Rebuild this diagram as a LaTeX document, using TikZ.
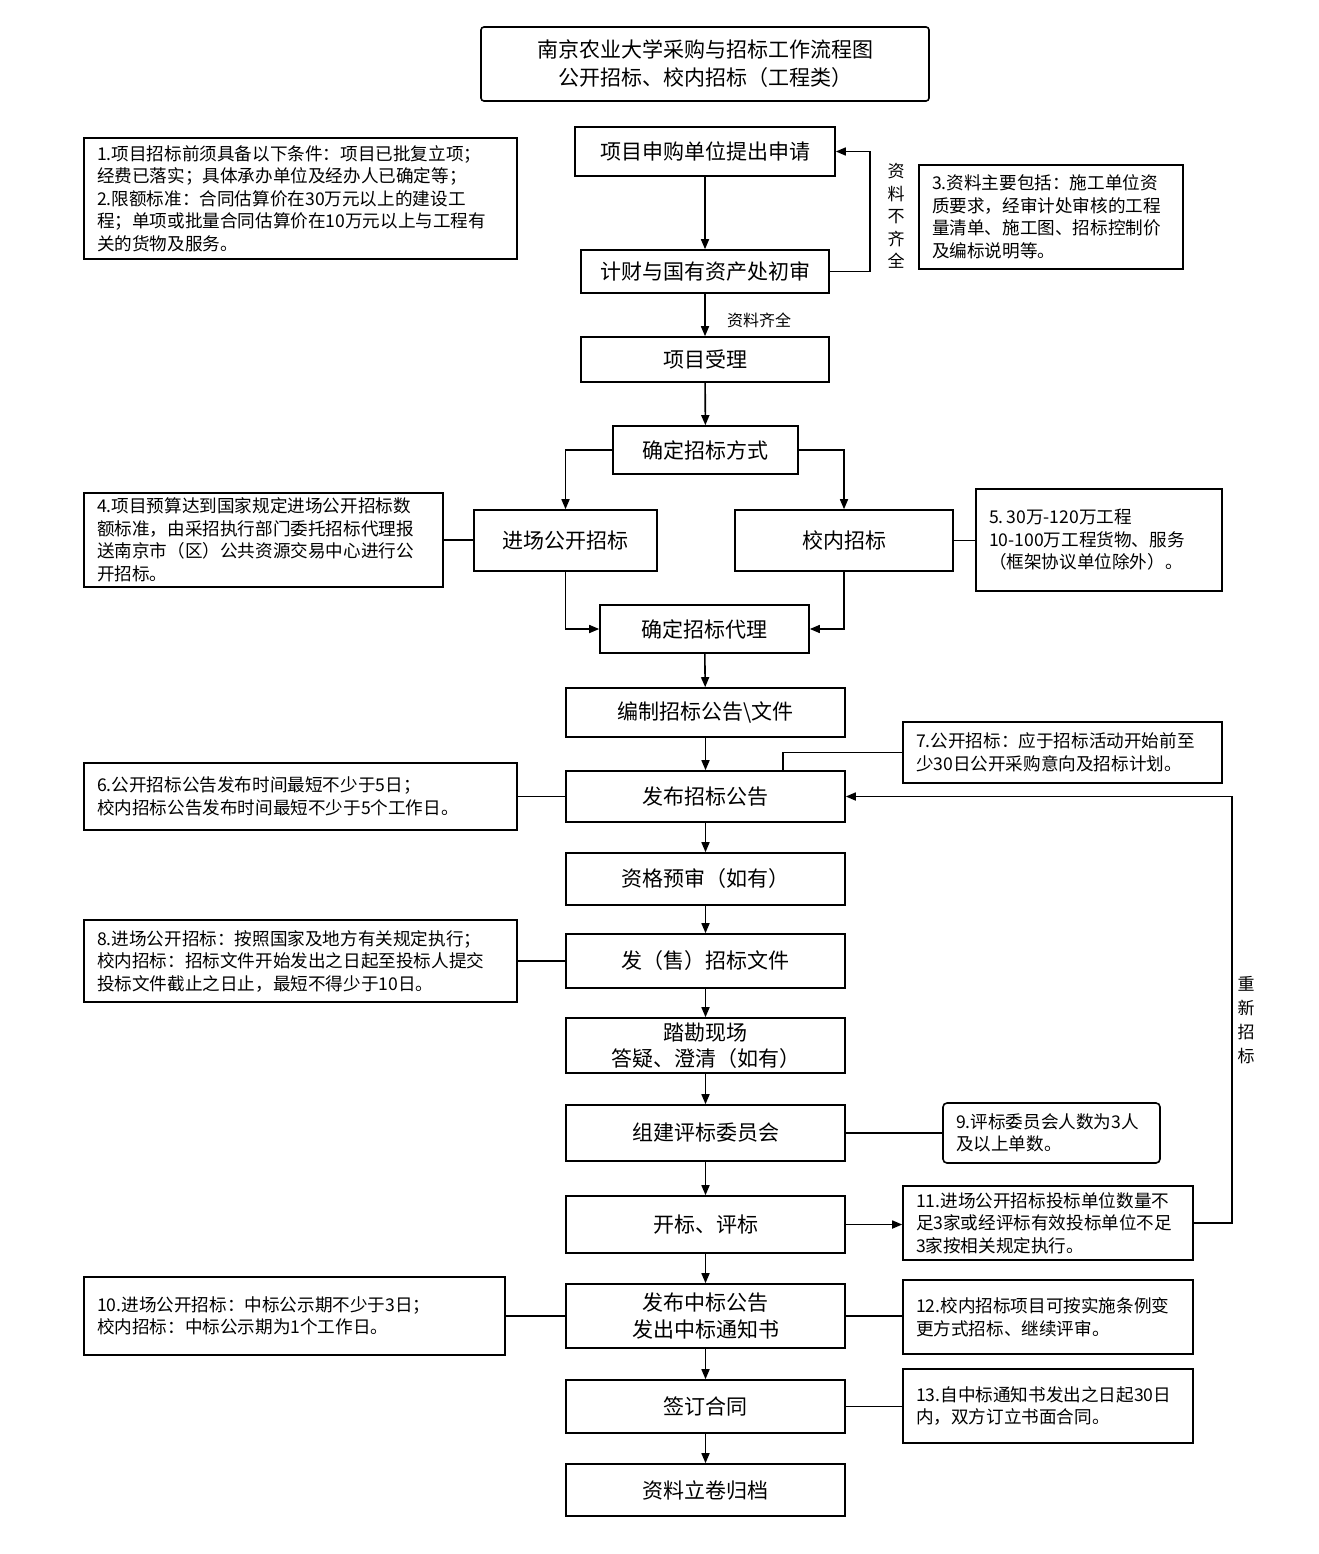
\documentclass[tikz,border=0pt]{standalone}
\usepackage{fontspec}
\setmainfont{Noto Sans CJK SC}
\usetikzlibrary{arrows.meta}
\begin{document}
\begin{tikzpicture}[x=1pt,y=-1pt,
  box/.style={draw, line width=1.6pt, align=center, inner sep=2pt, font=\fontsize{21}{27}\selectfont},
  note/.style={draw, line width=1.6pt, align=left, inner xsep=13pt, inner ysep=2pt, font=\fontsize{17.6}{22.5}\selectfont},
  vlab/.style={align=center, inner sep=0pt, font=\fontsize{17}{22.5}\selectfont},
  arr/.style={-{Triangle[length=10pt,width=8pt]}, line width=1.6pt},
  ln/.style={line width=1.6pt}]
\useasboundingbox (0,0) rectangle (1318,1554);
\fill[white] (0,0) rectangle (1318,1554);

% title
\node[box, rounded corners=3pt, minimum width=448, minimum height=74, font=\fontsize{21}{28}\selectfont] (title) at (705,64) {南京农业大学采购与招标工作流程图\\公开招标、校内招标（工程类）};

% main flow
\node[box, minimum width=260, minimum height=49] (apply) at (705,151.5) {项目申购单位提出申请};
\node[box, minimum width=248, minimum height=43] (review) at (705,271.5) {计财与国有资产处初审};
\node[box, minimum width=248, minimum height=45] (accept) at (705,359.5) {项目受理};
\node[box, minimum width=185, minimum height=48] (method) at (705.5,450) {确定招标方式};
\node[box, minimum width=183, minimum height=61] (open) at (565.5,540.5) {进场公开招标};
\node[box, minimum width=218, minimum height=61] (inner) at (844,540.5) {校内招标};
\node[box, minimum width=209, minimum height=48] (agent) at (704.5,629) {确定招标代理};
\node[box, minimum width=279, minimum height=49] (compile) at (705.5,712.5) {编制招标公告\textbackslash 文件};
\node[box, minimum width=279, minimum height=51] (publish) at (705.5,796.5) {发布招标公告};
\node[box, minimum width=279, minimum height=52] (prequal) at (705.5,879) {资格预审（如有）};
\node[box, minimum width=279, minimum height=54] (sell) at (705.5,961) {发（售）招标文件};
\node[box, minimum width=279, minimum height=55, font=\fontsize{21}{26}\selectfont] (site) at (705.5,1045.5) {踏勘现场\\答疑、澄清（如有）};
\node[box, minimum width=279, minimum height=56] (committee) at (705.5,1133) {组建评标委员会};
\node[box, minimum width=279, minimum height=57] (openbid) at (705.5,1224.5) {开标、评标};
\node[box, minimum width=279, minimum height=64, font=\fontsize{21}{27}\selectfont] (award) at (705.5,1316) {发布中标公告\\发出中标通知书};
\node[box, minimum width=279, minimum height=53] (contract) at (705.5,1406.5) {签订合同};
\node[box, minimum width=279, minimum height=52] (archive) at (705.5,1490) {资料立卷归档};

% notes
\node[note, text width=407, minimum height=121] (n1) at (300.5,198.5) {1.项目招标前须具备以下条件：项目已批复立项；\\经费已落实；具体承办单位及经办人已确定等；\\2.限额标准：合同估算价在30万元以上的建设工\\程；单项或批量合同估算价在10万元以上与工程有\\关的货物及服务。};
\node[note, text width=238, minimum height=104] (n3) at (1051,217) {3.资料主要包括：施工单位资\\质要求，经审计处审核的工程\\量清单、施工图、招标控制价\\及编标说明等。};
\node[note, text width=333, minimum height=94] (n4) at (263.5,540) {4.项目预算达到国家规定进场公开招标数\\额标准，由采招执行部门委托招标代理报\\送南京市（区）公共资源交易中心进行公\\开招标。};
\node[note, text width=220, minimum height=102] (n5) at (1099,540) {5.\,30万-120万工程\\10-100万工程货物、服务\\（框架协议单位除外）。};
\node[note, text width=407, minimum height=67] (n6) at (300.5,796.5) {6.公开招标公告发布时间最短不少于5日；\\校内招标公告发布时间最短不少于5个工作日。};
\node[note, text width=293, minimum height=61] (n7) at (1062.5,752.5) {7.公开招标：应于招标活动开始前至\\少30日公开采购意向及招标计划。};
\node[note, text width=407, minimum height=82] (n8) at (300.5,961) {8.进场公开招标：按照国家及地方有关规定执行；\\校内招标：招标文件开始发出之日起至投标人提交\\投标文件截止之日止，最短不得少于10日。};
\node[note, rounded corners=4pt, text width=191, minimum height=60] (n9) at (1051.5,1133) {9.评标委员会人数为3人\\及以上单数。};
\node[note, text width=264, minimum height=74] (n11) at (1048,1223) {11.进场公开招标投标单位数量不\\足3家或经评标有效投标单位不足\\3家按相关规定执行。};
\node[note, text width=395, minimum height=78] (n10) at (294.5,1316) {10.进场公开招标：中标公示期不少于3日；\\校内招标：中标公示期为1个工作日。};
\node[note, text width=264, minimum height=74] (n12) at (1048,1317) {12.校内招标项目可按实施条例变\\更方式招标、继续评审。};
\node[note, text width=264, minimum height=74] (n13) at (1048,1406) {13.自中标通知书发出之日起30日\\内，双方订立书面合同。};

% labels
\node[vlab] (lackinfo) at (896,216) {资\\料\\不\\齐\\全};
\node[vlab, font=\fontsize{16}{20}\selectfont] (fullinfo) at (759,320) {资料齐全};
\node[vlab, font=\fontsize{17}{24}\selectfont] (rebid) at (1246,1020) {重\\新\\招\\标};

% coordinates
\coordinate (loopR) at (870,271.5);
\coordinate (retX) at (1232,1223);
\coordinate (n7drop) at (783,771);

% connectors
\draw[arr] (apply) -- (review);
\draw[arr] (review.east) -- (loopR) |- (apply.east);
\draw[arr] (review) -- (accept);
\draw[arr] (accept) -- (method);
\draw[arr] (method.west) -| (open.north);
\draw[arr] (method.east) -| (inner.north);
\draw[ln] (n4.east) -- (n4.east -| open.west);
\draw[ln] (inner.east) -- (inner.east -| n5.west);
\draw[arr] (open.south) |- (agent.west);
\draw[arr] (inner.south) |- (agent.east);
\draw[arr] (agent) -- (compile);
\draw[arr] (compile) -- (publish);
\draw[arr] (publish) -- (prequal);
\draw[arr] (prequal) -- (sell);
\draw[arr] (sell) -- (site);
\draw[arr] (site) -- (committee);
\draw[arr] (committee) -- (openbid);
\draw[arr] (openbid) -- (award);
\draw[arr] (award) -- (contract);
\draw[arr] (contract) -- (archive);
\draw[ln] (n6.east) -- (publish.west);
\draw[ln] (n7.west) -| (n7drop);
\draw[ln] (n8.east) -- (sell.west);
\draw[ln] (committee.east) -- (n9.west);
\draw[arr] (openbid.east) -- (openbid.east -| n11.west);
\draw[arr] (n11.east) -- (retX) |- (publish.east);
\draw[ln] (n10.east) -- (award.west);
\draw[ln] (award.east) -- (award.east -| n12.west);
\draw[ln] (contract.east) -- (contract.east -| n13.west);
\end{tikzpicture}
\end{document}
